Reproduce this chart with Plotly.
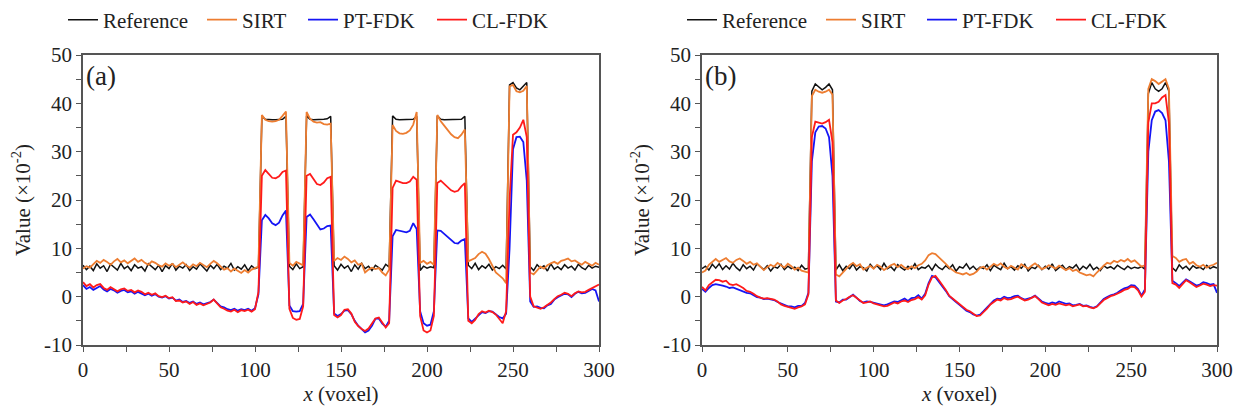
import plotly.graph_objects as go

# ---------------- data ----------------
X_VOXEL = list(range(0, 301, 2))

REF_A = [
    6.5, 5.6, 6.3, 5.4, 6.8, 5.9, 6.4, 5.2, 6.7, 6.0,
    5.5, 6.9, 5.8, 6.3, 5.4, 6.6, 5.9, 6.2, 5.3, 6.8,
    6.1, 5.6, 6.5, 5.2, 6.4, 5.8, 6.9, 5.5, 6.3, 5.9,
    6.6, 5.4, 6.2, 5.7, 6.8, 6.0, 5.3, 6.5, 5.8, 6.7,
    5.6, 6.3, 5.9, 6.9, 5.5, 6.2, 5.7, 6.6, 5.4, 6.4,
    5.8, 6.1, 37.3, 36.7, 36.6, 36.6, 36.6, 36.6, 36.7, 37.3,
    6.3, 5.6, 6.8, 5.8, 6.2, 37.4, 36.7, 36.6, 36.6, 36.6,
    36.7, 36.8, 37.3, 6.4, 5.5, 6.7, 5.9, 6.4, 5.2, 6.6,
    5.7, 6.9, 5.8, 6.3, 5.4, 6.5, 6.0, 5.5, 6.7, 6.1,
    37.4, 36.7, 36.6, 36.6, 36.6, 36.6, 36.7, 37.3, 5.4, 6.3,
    5.9, 6.2, 6.0, 37.4, 36.7, 36.6, 36.6, 36.6, 36.6, 36.6,
    36.7, 37.3, 6.5, 5.8, 6.9, 5.6, 6.4, 5.9, 6.7, 5.5,
    6.2, 5.8, 6.5, 5.7, 43.8, 44.3, 43.2, 42.8, 43.5, 44.3,
    6.2, 5.4, 6.6, 5.9, 6.4, 5.3, 6.8, 5.7, 6.2, 5.6,
    6.6, 5.9, 6.3, 5.5, 6.7, 6.0, 5.6, 6.5, 5.9, 6.3,
    6.1,
]

SIRT_A = [
    5.8, 6.3, 6.0, 6.8, 7.4, 7.0, 7.6, 7.2, 6.6, 7.3,
    7.8, 7.1, 7.5, 6.9, 7.4, 7.9, 7.2, 7.6, 7.0, 6.6,
    7.3, 7.0, 6.5, 6.2, 6.9, 6.4, 6.8, 6.1, 6.6, 7.1,
    6.5, 6.0, 6.7, 6.3, 7.0, 6.6, 6.1, 6.8, 7.4, 6.9,
    6.2, 5.6, 5.9, 5.2, 5.8, 5.4, 4.9, 5.5, 5.0, 5.6,
    5.9, 6.2, 37.6, 36.6, 36.3, 36.2, 36.3, 36.6, 37.4, 38.3,
    7.0, 6.4, 7.2, 6.8, 6.5, 38.2, 36.8, 36.2, 36.0, 36.1,
    35.7, 35.6, 35.8, 7.4, 8.0, 7.6, 8.3, 7.8, 7.1, 7.5,
    6.6, 6.9, 5.0, 5.6, 6.0, 5.7, 5.9, 5.0, 4.4, 5.6,
    35.5, 34.3, 33.8, 33.7, 33.9, 34.4, 35.6, 38.2, 7.0, 7.4,
    6.8, 7.2, 6.6, 37.6, 36.3, 35.4, 34.5, 33.6, 33.0, 32.8,
    33.5, 34.6, 7.3, 7.6, 8.0, 8.8, 9.3, 8.9, 7.8, 6.4,
    5.0, 4.4, 3.8, 2.8, 43.5, 43.8, 42.5, 42.3, 42.6, 43.6,
    5.0, 4.6, 5.5, 6.2, 5.8, 6.5, 6.9, 7.2, 6.8, 7.4,
    7.6, 7.9, 7.3, 7.5, 7.0, 6.6, 7.2, 6.8, 6.4, 7.0,
    6.6,
]

PTFDK_A = [
    2.4, 1.6, 2.0, 1.4, 1.8, 2.2, 1.5, 1.1, 1.6, 1.3,
    0.8, 1.2, 1.4, 0.9, 1.1, 0.6, 1.0, 0.7, 0.3, 0.6,
    0.2, 0.5, 0.0, -0.2, 0.1, -0.4, -0.2, -0.8, -0.6, -1.1,
    -0.9, -1.3, -1.0, -1.5, -1.2, -1.6, -1.4, -1.1, -0.6, -1.2,
    -2.0, -2.2, -2.6, -2.8, -2.5, -2.9, -2.6, -2.8, -2.5, -2.9,
    -2.4, 0.5, 15.8, 16.9, 16.2, 15.2, 14.8, 15.3, 16.8, 17.8,
    -1.8, -3.0, -3.1, -3.0, -1.5, 16.5, 17.0, 16.0, 14.8, 13.9,
    14.1, 14.6, 14.7, -3.5, -4.0, -3.6, -2.9, -2.8, -3.6, -5.0,
    -6.0, -6.8, -7.4, -7.0, -6.0, -4.6, -4.5, -5.6, -6.2, -5.0,
    12.5, 13.8, 13.6, 13.4, 13.3, 13.6, 15.2, 14.0, -3.0, -5.5,
    -6.0, -5.8, -3.0, 13.7, 13.6, 13.0, 12.3, 11.6, 11.1, 11.0,
    11.6, 11.9, -4.5, -5.2, -4.6, -3.8, -3.2, -3.4, -3.0, -3.1,
    -3.6, -4.2, -4.5, -3.5, 10.0, 30.5, 33.0, 33.1, 32.0, 24.0,
    -1.0, -2.1, -2.0, -2.3, -2.4, -1.8, -1.5, -0.6, -0.1, 0.2,
    0.6, 0.5, -0.1, 0.6, 1.0, 0.7, 0.8, 1.2, 1.6, 1.3,
    -1.0,
]

CLFDK_A = [
    3.0, 2.2, 2.6, 1.9, 2.4, 2.6, 1.8, 1.4, 2.0, 1.6,
    1.1, 1.5, 1.7, 1.2, 1.4, 0.9, 1.3, 1.0, 0.5, 0.8,
    0.4, 0.7, 0.1, -0.1, 0.2, -0.3, -0.1, -0.9, -0.8, -1.2,
    -1.0, -1.5, -1.1, -1.7, -1.4, -1.8, -1.5, -1.2, -0.6, -1.4,
    -2.2, -2.5, -2.9, -3.1, -2.7, -3.2, -2.8, -3.0, -2.7, -3.1,
    -2.6, 1.0, 25.0, 26.2, 25.5, 24.6, 24.5, 24.9, 25.8, 26.1,
    -2.5, -4.4, -4.8, -4.6, -2.0, 25.0, 25.4, 24.4, 23.3, 23.1,
    23.6, 24.5, 24.8, -3.8, -4.3, -3.8, -2.7, -2.6, -3.5, -5.2,
    -6.1, -6.7, -7.1, -6.6, -5.6, -4.5, -4.3, -5.4, -6.4, -5.5,
    22.5, 24.0, 23.7, 23.5, 23.5, 23.8, 24.8, 24.2, -4.0, -7.0,
    -7.4, -7.0, -4.0, 23.5, 24.0, 23.4, 22.6, 22.0, 21.7, 21.9,
    22.8, 23.5, -5.0, -5.5, -4.8, -3.6, -3.0, -3.3, -2.9, -3.2,
    -3.7, -4.6, -5.5, -3.0, 20.0, 33.5, 34.0, 35.0, 36.6, 33.0,
    0.0, -2.0, -2.2, -2.5, -2.2, -1.7, -1.2, -0.5, 0.1, 0.4,
    0.8, 0.6, 0.1, 0.7, 1.1, 0.9, 1.0, 1.4, 1.8, 2.2,
    2.5,
]

REF_B = [
    5.8, 6.3, 5.5, 6.7, 5.9, 6.8, 5.6, 6.4, 5.7, 6.9,
    6.0, 5.4, 6.6, 5.8, 6.3, 5.5, 6.8, 6.1, 5.6, 6.4,
    5.3, 6.2, 5.9, 6.7, 5.6, 6.3, 5.8, 6.1, 5.4, 6.5,
    5.7, 5.9, 42.5, 44.0, 43.4, 42.8, 43.3, 44.0, 42.8, 5.5,
    6.6, 5.4, 6.3, 5.8, 6.8, 5.5, 6.2, 6.0, 5.3, 6.7,
    5.9, 6.4, 5.6, 6.9, 5.8, 6.2, 5.4, 6.6, 6.0, 5.5,
    6.3, 5.7, 6.8, 5.6, 6.1, 5.9, 6.5, 5.5, 6.7, 6.0,
    5.6, 6.4, 5.8, 6.6, 5.3, 6.2, 5.9, 6.8, 5.7, 6.3,
    5.5, 6.1, 5.8, 6.6, 5.4, 6.5, 6.0, 5.6, 6.9, 5.8,
    6.2, 5.5, 6.4, 5.9, 6.7, 5.3, 6.1, 5.8, 6.5, 5.6,
    6.3, 5.7, 6.8, 5.4, 6.0, 6.5, 5.6, 6.2, 5.9, 6.6,
    5.5, 6.3, 5.8, 6.7, 5.6, 6.1, 5.4, 6.4, 5.9, 6.2,
    5.7, 6.5, 6.0, 5.6, 6.3, 5.8, 6.1, 5.9, 6.2, 5.7,
    42.0, 44.3, 43.0, 42.5, 43.0, 44.3, 42.5, 6.0, 5.3, 6.6,
    5.8, 6.3, 5.5, 6.4, 5.9, 6.1, 5.6, 6.5, 5.8, 6.2,
    5.9,
]

SIRT_B = [
    5.0, 5.4, 6.6, 7.3, 7.8, 7.2, 7.6, 8.0, 7.3, 7.0,
    7.6, 7.9, 7.4, 6.8, 7.2, 6.6, 6.9, 6.3, 5.5, 6.1,
    6.6, 6.2, 7.0, 6.5, 6.0, 6.8, 6.3, 5.6, 6.0, 5.4,
    5.2, 5.0, 41.5, 42.8, 42.4, 42.2, 42.4, 42.8, 41.8, 4.6,
    4.2, 5.0, 5.8, 6.5, 7.0, 6.3, 6.7, 5.6, 6.0, 6.4,
    5.8, 6.6, 6.2, 5.5, 6.0, 6.5, 6.8, 6.1, 6.6, 6.0,
    5.7, 6.3, 5.9, 6.5, 6.8, 7.5, 8.6, 9.0, 8.8, 8.2,
    7.6, 6.8, 6.0, 5.4, 5.0, 4.8, 4.6, 4.9, 4.5, 4.7,
    5.2, 6.0, 6.2, 5.6, 6.3, 6.8, 6.4, 6.9, 6.2, 5.8,
    6.4, 6.0, 5.6, 6.7, 6.2, 5.8, 6.4, 6.9, 6.3, 5.7,
    6.0, 6.5, 6.2, 5.8, 6.4, 6.0, 5.5, 5.9, 5.3, 5.6,
    5.0, 4.7, 4.4, 4.6, 4.2, 5.0, 5.8, 6.4, 7.0, 6.8,
    7.4, 7.1, 7.6, 7.3, 7.8, 7.2, 7.5, 6.9, 6.2, 6.5,
    43.0, 45.0, 44.6, 44.0, 44.5, 45.0, 43.0, 8.4, 8.0, 7.2,
    7.6, 7.8, 6.8, 7.2, 6.5, 6.2, 6.6, 6.0, 6.4, 6.6,
    7.0,
]

PTFDK_B = [
    1.6, 1.0, 1.8, 2.4, 2.6, 2.5, 2.3, 2.1, 1.8, 1.9,
    1.6, 1.3, 1.1, 0.8, 0.7, 0.3, -0.1, -0.2, -0.5, -0.4,
    -0.5, -0.7, -1.1, -1.4, -1.7, -2.0, -2.0, -2.2, -1.9, -1.9,
    -1.3, 0.8, 28.0, 34.0, 35.2, 35.3, 34.8, 33.0, 25.0, -1.0,
    -1.2, -0.6, -0.6, -0.1, 0.4, -0.2, -0.9, -1.2, -1.0, -1.1,
    -1.3, -1.5, -1.7, -1.8, -1.6, -1.3, -1.0, -1.1, -0.8, -0.4,
    -0.9, -0.3, -0.2, 0.3, -0.4, 0.6, 2.8, 4.3, 4.0, 3.1,
    2.2, 1.2, 0.1, -0.6, -1.1, -1.7, -2.3, -2.9, -3.2, -3.7,
    -3.9, -3.7, -3.0, -2.2, -1.4, -0.8, -0.4, -0.5, 0.0, -0.3,
    -0.2, 0.1, 0.2, -0.3, -0.6, -0.4, -0.2, 0.2, -0.4, -1.0,
    -1.3, -1.5, -1.2, -1.4, -1.0, -1.2, -1.5, -1.4, -1.8, -1.7,
    -1.5, -1.9, -1.8, -2.1, -2.3, -2.0, -1.2, -0.5, -0.1, 0.3,
    0.5, 0.8, 1.3, 1.7, 1.9, 2.4, 2.3, 1.6, 0.2, 1.5,
    30.0, 36.5, 38.3, 38.6, 38.0, 36.5, 28.0, 3.3, 2.8, 2.2,
    2.9, 3.6, 3.2, 2.7, 2.3, 2.5, 3.0, 2.8, 2.5, 2.6,
    0.8,
]

CLFDK_B = [
    2.0, 1.3, 2.4, 3.0, 3.5, 3.4, 3.1, 3.3, 2.6, 2.4,
    2.6, 2.2, 1.8, 1.2, 1.0, 0.6, 0.1, -0.2, -0.4, -0.3,
    -0.5, -0.6, -1.0, -1.6, -1.9, -2.1, -2.3, -2.5, -2.2, -2.0,
    -1.6, 0.5, 33.0, 36.2, 36.0, 35.8, 36.1, 36.6, 32.0, -0.8,
    -1.3, -0.8, -0.5, 0.0, 0.3, -0.3, -0.8, -1.3, -1.2, -1.0,
    -1.4, -1.6, -1.8, -2.0, -1.9, -1.5, -1.2, -1.4, -1.0, -0.8,
    -1.1, -0.7, -0.5, -0.1, -0.6, 0.3, 2.5, 4.0, 4.3, 3.4,
    2.5, 1.4, 0.2, -0.4, -0.9, -1.6, -2.2, -2.7, -3.0, -3.6,
    -4.0, -3.9, -3.3, -2.5, -1.6, -1.0, -0.6, -0.8, -0.3, -0.6,
    -0.5, -0.2, 0.0, -0.4, -0.8, -0.6, -0.3, 0.1, -0.5, -1.2,
    -1.5, -1.8, -1.5, -1.7, -1.4, -1.6, -1.8, -1.6, -2.0, -1.8,
    -1.6, -2.0, -1.9, -2.2, -2.4, -2.1, -1.4, -0.7, -0.3, 0.1,
    0.3, 0.6, 1.0, 1.4, 1.6, 2.1, 2.0, 1.3, 0.0, 1.0,
    36.0, 40.0, 40.0, 40.3, 41.2, 41.7, 36.0, 2.8, 2.5, 1.8,
    2.6, 3.4, 3.0, 2.4, 2.0, 2.3, 2.7, 2.5, 2.2, 2.4,
    2.3,
]

SERIES_NAMES = ["Reference", "SIRT", "PT-FDK", "CL-FDK"]
X_TICKS = [0, 50, 100, 150, 200, 250, 300]
Y_TICKS = [-10, 0, 10, 20, 30, 40, 50]
Y_TICK_TEXT = ["-10", "0", "10", "20", "30", "40", "50"]
PANEL_LABELS = ["(a)", "(b)"]

for arr in (REF_A, SIRT_A, PTFDK_A, CLFDK_A, REF_B, SIRT_B, PTFDK_B, CLFDK_B):
    assert len(arr) == len(X_VOXEL), len(arr)

# ---------------- styling ----------------
COLORS = ["#111111", "#ED7D31", "#1515F5", "#FF1A1A"]
WIDTHS = [1.5, 1.8, 1.8, 1.8]
FONT = "Liberation Serif"
TXT = "#222222"
AX = "#555555"
# the page body has an 8px margin, so the figure is drawn 8px in from the window edge
BODY = 8
W, H = 1243 - 2 * BODY, 415 - 2 * BODY

# window-pixel left edge of each legend entry's line sample, per panel
LEGEND_PX = [[71, 210, 311, 440], [690, 829, 930, 1059]]
LEGEND_Y_PX = 20

fig = go.Figure()
panels = [
    ([REF_A, SIRT_A, PTFDK_A, CLFDK_A], "x", "y"),
    ([REF_B, SIRT_B, PTFDK_B, CLFDK_B], "x2", "y2"),
]
legend_layouts = {}
k = 0
for p, (series, xa, ya) in enumerate(panels):
    for j, (name, vals, col, w) in enumerate(zip(SERIES_NAMES, series, COLORS, WIDTHS)):
        k += 1
        lg = "legend" if k == 1 else f"legend{k}"
        fig.add_trace(go.Scatter(
            x=X_VOXEL, y=vals, mode="lines", name=name,
            line=dict(color=col, width=w),
            xaxis=xa, yaxis=ya, legend=lg, showlegend=True,
        ))
        legend_layouts[lg] = dict(
            xref="container", yref="container",
            x=(LEGEND_PX[p][j] - 8 - BODY) / W, y=1 - (LEGEND_Y_PX - BODY) / H,
            xanchor="left", yanchor="middle", orientation="h",
            font=dict(family=FONT, size=21, color=TXT), bgcolor="rgba(0,0,0,0)",
            itemwidth=30, borderwidth=0,
        )

def xaxis(domain, anchor):
    return dict(
        domain=domain, anchor=anchor, range=[0, 300],
        tickvals=X_TICKS, ticks="outside", ticklen=5, tickwidth=1.3, tickcolor=AX,
        minor=dict(dtick=25, tick0=0, ticks="outside", ticklen=5, tickwidth=1.3, tickcolor=AX),
        showline=True, linecolor=AX, linewidth=1.5, mirror=True,
        showgrid=False, zeroline=False, automargin=False,
        tickfont=dict(family=FONT, size=21, color=TXT),
        title=dict(text="<i>x</i> (voxel)", font=dict(family=FONT, size=21, color=TXT), standoff=2),
    )

def yaxis(anchor):
    return dict(
        domain=[0, 1], anchor=anchor, range=[-10, 50],
        tickvals=Y_TICKS, ticktext=Y_TICK_TEXT,
        ticks="outside", ticklen=5, tickwidth=1.3, tickcolor=AX,
        minor=dict(dtick=5, tick0=0, ticks="outside", ticklen=5, tickwidth=1.3, tickcolor=AX),
        showline=True, linecolor=AX, linewidth=1.5, mirror=True,
        showgrid=False, zeroline=False, automargin=False,
        tickfont=dict(family=FONT, size=21, color=TXT),
        title=dict(text="Value (×10<sup>-2</sup>)", font=dict(family=FONT, size=21, color=TXT), standoff=8),
    )

# plot areas in window pixels: x 83..599 and 702..1217, y 55..345
L = 83 - BODY
R = W - (1217 - BODY)
T = 55 - BODY
B = H - (345 - BODY)
PW = W - L - R
dom_a = [0, (599 - 83) / PW]
dom_b = [(702 - 83) / PW, 1.0]

fig.update_layout(
    width=W, height=H,
    margin=dict(l=L, r=R, t=T, b=B, pad=0),
    paper_bgcolor="white", plot_bgcolor="white",
    xaxis=xaxis(dom_a, "y"),
    yaxis=yaxis("x"),
    xaxis2=xaxis(dom_b, "y2"),
    yaxis2=yaxis("x2"),
    showlegend=True,
    annotations=[
        dict(text=PANEL_LABELS[0], xref="x domain", yref="y domain", x=0.002, y=0.985,
             xanchor="left", yanchor="top", showarrow=False,
             font=dict(family=FONT, size=27, color=TXT)),
        dict(text=PANEL_LABELS[1], xref="x2 domain", yref="y2 domain", x=0.002, y=0.985,
             xanchor="left", yanchor="top", showarrow=False,
             font=dict(family=FONT, size=27, color=TXT)),
    ],
)
fig.update_layout(**legend_layouts)

fig.write_html("out.html")
